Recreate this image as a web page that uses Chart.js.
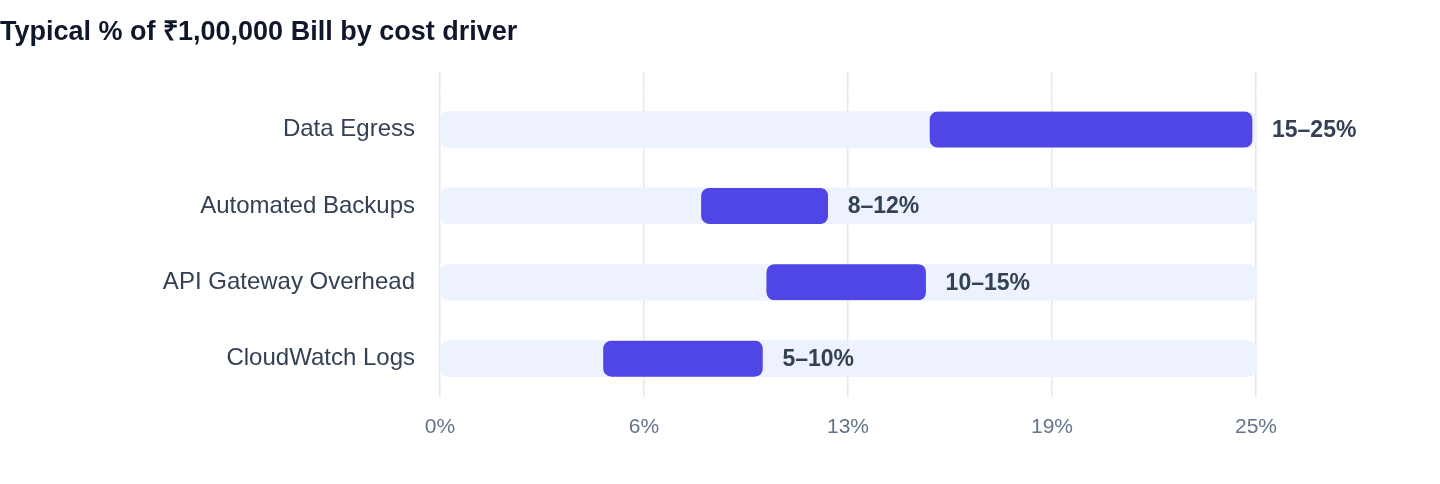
<!DOCTYPE html>
<html>
<head>
<meta charset="utf-8">
<script src="https://cdn.jsdelivr.net/npm/chart.js@4.4.1/dist/chart.umd.min.js"></script>
<style>
  html, body { margin: 0; padding: 0; background: #ffffff; }
  #wrap { width: 1440px; height: 484px; position: relative; }
</style>
</head>
<body>
<div id="wrap"><canvas id="c"></canvas></div>
<script>
const titleText = 'Typical % of ₹1,00,000 Bill by cost driver';
const categories = ['Data Egress', 'Automated Backups', 'API Gateway Overhead', 'CloudWatch Logs'];
const lowValues = [15, 8, 10, 5];
const highValues = [25, 12, 15, 10];
const trackMax = 25;
const tickStep = 6.25;

const FONT = "'Liberation Sans', Arial, Helvetica, sans-serif";

const rangeData = categories.map((c, i) => [lowValues[i], highValues[i]]);
const trackData = categories.map(() => [0, trackMax]);

const labelPlugin = {
  id: 'rangeLabels',
  afterDatasetsDraw(chart) {
    const ctx = chart.ctx;
    const meta = chart.getDatasetMeta(0);
    ctx.save();
    ctx.font = "bold 23px " + FONT;
    ctx.fillStyle = '#334155';
    ctx.textAlign = 'left';
    ctx.textBaseline = 'middle';
    meta.data.forEach((el, i) => {
      ctx.fillText(lowValues[i] + '–' + highValues[i] + '%', el.x + 16, el.y + 1);
    });
    ctx.restore();
  }
};

new Chart(document.getElementById('c'), {
  type: 'bar',
  data: {
    labels: categories,
    datasets: [
      {
        label: 'Range',
        data: rangeData,
        backgroundColor: '#4F46E5',
        borderColor: 'rgba(0,0,0,0)',
        borderWidth: { top: 0, bottom: 0, left: 0, right: 4 },
        borderSkipped: false,
        borderRadius: { topLeft: 8, bottomLeft: 8, topRight: 12, bottomRight: 12 },
        barThickness: 36,
        grouped: false,
        order: 0
      },
      {
        label: 'Track',
        data: trackData,
        backgroundColor: '#EEF2FF',
        borderSkipped: false,
        borderRadius: 8,
        barThickness: 36,
        grouped: false,
        order: 1
      }
    ]
  },
  options: {
    indexAxis: 'y',
    responsive: true,
    maintainAspectRatio: false,
    animation: false,
    layout: { padding: { left: 0, right: 184, top: 0, bottom: 26 } },
    plugins: {
      legend: { display: false },
      tooltip: { enabled: false },
      title: {
        display: true,
        text: titleText,
        align: 'start',
        color: '#0f172a',
        font: { family: FONT, size: 27, weight: 'bold' },
        padding: { top: 16, bottom: 23 }
      }
    },
    scales: {
      x: {
        type: 'linear',
        position: 'bottom',
        min: 0,
        max: trackMax,
        border: { display: false },
        grid: { color: '#e2e8f0', lineWidth: 1.5, drawTicks: false },
        ticks: {
          stepSize: tickStep,
          padding: 18,
          color: '#64748b',
          font: { family: FONT, size: 21 },
          callback: (v) => Math.round(v) + '%'
        }
      },
      x2: {
        type: 'linear',
        position: 'top',
        min: 0,
        max: trackMax,
        border: { display: false },
        grid: { color: '#e2e8f0', lineWidth: 1.5, drawOnChartArea: false, drawTicks: true, tickLength: 20 },
        ticks: { display: false, stepSize: tickStep }
      },
      y: {
        type: 'category',
        border: { display: false },
        grid: { display: false },
        ticks: {
          padding: 17,
          color: '#334155',
          font: { family: FONT, size: 24 }
        },
        afterFit: (axis) => { axis.width = 440; }
      }
    }
  },
  plugins: [labelPlugin]
});
</script>
</body>
</html>
